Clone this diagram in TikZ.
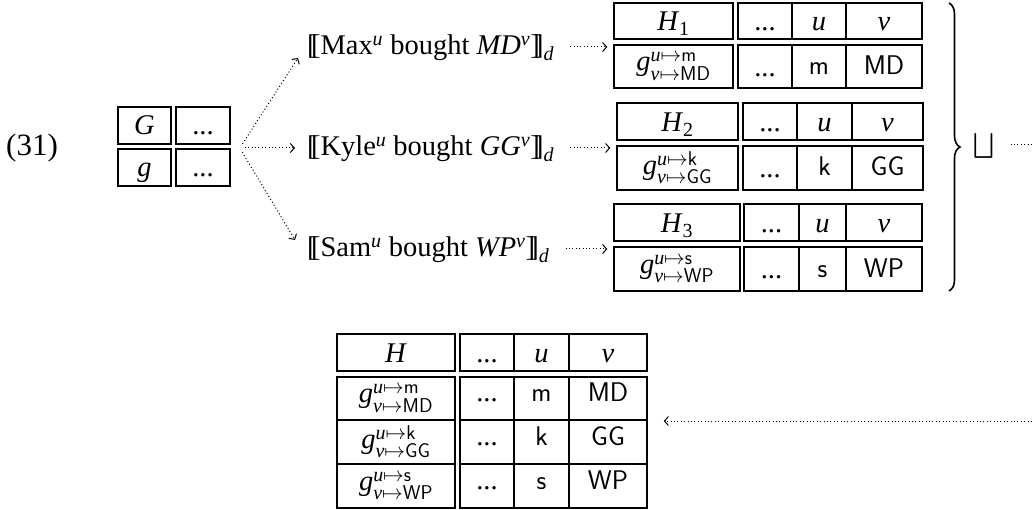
\documentclass[tikz,border=0pt]{standalone}
\usepackage{amsmath}
\usepackage{fontspec}
\setmainfont{Liberation Serif}
\usetikzlibrary{arrows.meta,decorations.pathreplacing,fit}
\newcommand\mi[1]{\textit{#1}}
\newcommand\lbb{[\kern-0.2em[}
\newcommand\rbb{]\kern-0.2em]}
\newcommand\fsz{\fontsize{28.5}{34}\selectfont}
\newcommand\sv[1]{{\fontsize{27}{32}\selectfont\textsf{#1}}}
\newcommand\tc[7][]{\node[cellbox, #1, minimum width={#5-#3}, minimum height={#6-#4}] (#2) at ({(#3+#5)/2},{(#4+#6)/2}) {#7};}
\tikzset{
  cellbox/.style={draw, line width=1.1pt, inner sep=0pt, font=\fsz},
  hdr/.style={text height=22pt, text depth=2pt},
  gcell/.style={text height=20pt, text depth=2pt},
  gmap/.style={},
  tbody/.style={text height=16pt, text depth=0pt},
  bbody/.style={text height=8pt, text depth=2pt},
  txt/.style={inner sep=0pt, anchor=base west, font=\fsz},
  dotline/.style={line width=1pt, dash pattern=on 1pt off 2.4pt},
  arr/.style={dotline, -{Straight Barb[length=4pt,width=9pt]}},
  bracestyle/.style={line width=1.6pt, decorate, decoration={brace, amplitude=11pt}},
  tbl/.style={inner sep=0pt}
}
\begin{document}
\begin{tikzpicture}[x=1pt,y=-1pt]
\useasboundingbox (0,0) rectangle (1032,510);
% example number
\node[font=\fontsize{31}{36}\selectfont, inner sep=0pt, anchor=base west] (num) at (6,156) {(31)};
% G table
\tc[gcell]{ga}{118}{107}{171}{144}{\mi{G}}
\tc[gcell]{gb}{176}{107}{230}{144}{...}
\tc[gcell]{gc}{118}{149}{171}{186}{\mi{g}}
\tc[gcell]{gd}{176}{149}{230}{186}{...}
\node[tbl, fit=(ga)(gd)] (G) {};
\coordinate (fork) at ([xshift=9pt,yshift=-1.5pt]G.east);
% texts
\node[txt] (t1) at (307,55) {\lbb Max$^{\mi{u}}$ bought \mi{MD}$^{\mi{v}}$\rbb$_{\mi{d}}$};
\node[txt] (t2) at (307,156) {\lbb Kyle$^{\mi{u}}$ bought \mi{GG}$^{\mi{v}}$\rbb$_{\mi{d}}$};
\node[txt] (t3) at (307,257) {\lbb Sam$^{\mi{u}}$ bought \mi{WP}$^{\mi{v}}$\rbb$_{\mi{d}}$};
% H1
\tc[hdr]{h1a}{614}{3}{733}{39}{\mi{H}$_{\text{1}}$}
\tc[hdr]{h1b}{738}{3}{792}{39}{...}
\tc[hdr]{h1c}{792}{3}{846}{39}{\mi{u}}
\tc[hdr]{h1d}{846}{3}{922}{39}{\mi{v}}
\tc[gmap]{h1e}{614}{45}{733}{88}{\mi{g}$^{\mi{u}\mapsto\textsf{m}}_{\mi{v}\mapsto\textsf{MD}}$}
\tc[hdr]{h1f}{738}{45}{792}{88}{...}
\tc[tbody]{h1g}{792}{45}{846}{88}{\sv{m}}
\tc[tbody]{h1h}{846}{45}{922}{88}{\sv{MD}}
\node[tbl, fit=(h1a)(h1h)] (H1) {};
% H2
\tc[hdr]{h2a}{617}{103}{738}{140}{\mi{H}$_{\text{2}}$}
\tc[hdr]{h2b}{743}{103}{797}{140}{...}
\tc[hdr]{h2c}{797}{103}{852}{140}{\mi{u}}
\tc[hdr]{h2d}{852}{103}{923}{140}{\mi{v}}
\tc[gmap]{h2e}{617}{146}{738}{190}{\mi{g}$^{\mi{u}\mapsto\textsf{k}}_{\mi{v}\mapsto\textsf{GG}}$}
\tc[hdr]{h2f}{743}{146}{797}{190}{...}
\tc[tbody]{h2g}{797}{146}{852}{190}{\sv{k}}
\tc[tbody]{h2h}{852}{146}{923}{190}{\sv{GG}}
\node[tbl, fit=(h2a)(h2h)] (H2) {};
% H3
\tc[hdr]{h3a}{614}{204}{740}{241}{\mi{H}$_{\text{3}}$}
\tc[hdr]{h3b}{744}{204}{799}{241}{...}
\tc[hdr]{h3c}{799}{204}{846}{241}{\mi{u}}
\tc[hdr]{h3d}{846}{204}{922}{241}{\mi{v}}
\tc[gmap]{h3e}{614}{247}{740}{291}{\mi{g}$^{\mi{u}\mapsto\textsf{s}}_{\mi{v}\mapsto\textsf{WP}}$}
\tc[hdr]{h3f}{744}{247}{799}{291}{...}
\tc[tbody]{h3g}{799}{247}{846}{291}{\sv{s}}
\tc[tbody]{h3h}{846}{247}{922}{291}{\sv{WP}}
\node[tbl, fit=(h3a)(h3h)] (H3) {};
% bottom H table
\tc[hdr]{ha}{337}{334}{455}{371}{\mi{H}}
\tc[hdr]{hb}{460}{334}{514}{371}{...}
\tc[hdr]{hc}{514}{334}{569}{371}{\mi{u}}
\tc[hdr]{hd}{569}{334}{647}{371}{\mi{v}}
\tc[gmap]{he}{337}{377}{455}{420}{\mi{g}$^{\mi{u}\mapsto\textsf{m}}_{\mi{v}\mapsto\textsf{MD}}$}
\tc[bbody]{hf}{460}{377}{514}{420}{...}
\tc[bbody]{hg}{514}{377}{569}{420}{\sv{m}}
\tc[bbody]{hh}{569}{377}{647}{420}{\sv{MD}}
\tc[gmap]{hi}{337}{420}{455}{464}{\mi{g}$^{\mi{u}\mapsto\textsf{k}}_{\mi{v}\mapsto\textsf{GG}}$}
\tc[bbody]{hj}{460}{420}{514}{464}{...}
\tc[bbody]{hk}{514}{420}{569}{464}{\sv{k}}
\tc[bbody]{hl}{569}{420}{647}{464}{\sv{GG}}
\tc[gmap]{hm}{337}{464}{455}{508}{\mi{g}$^{\mi{u}\mapsto\textsf{s}}_{\mi{v}\mapsto\textsf{WP}}$}
\tc[bbody]{hn}{460}{464}{514}{508}{...}
\tc[bbody]{ho}{514}{464}{569}{508}{\sv{s}}
\tc[bbody]{hp}{569}{464}{647}{508}{\sv{WP}}
\node[tbl, fit=(ha)(hp)] (H) {};
% brace and join
\coordinate (br1) at (949,3);
\coordinate (br2) at (949,291);
\draw[bracestyle] (br1) -- (br2);
\node[inner sep=0pt, font=\fsz] (sq) at (984,146) {$\bigsqcup$};
\coordinate (sqout) at (1032,145);
\coordinate (ret) at (1032,421);
% arrows
\draw[arr, shorten <=5pt] (fork) -- ([xshift=-9pt,yshift=-3pt]t1.base west);
\draw[arr, shorten <=5pt, shorten >=12pt] (fork) -- (fork -| t2.west);
\draw[arr, shorten <=5pt] (fork) -- ([xshift=-12pt,yshift=17pt]t3.base west);
\coordinate (a1) at ([yshift=8pt]t1.base east);
\coordinate (a2) at ([yshift=8pt]t2.base east);
\coordinate (a3) at ([yshift=8pt]t3.base east);
\draw[arr, shorten <=16pt, shorten >=6pt] (a1) -- (a1 -| H1.west);
\draw[arr, shorten <=16pt, shorten >=6pt] (a2) -- (a2 -| H2.west);
\draw[arr, shorten <=16pt, shorten >=6pt] (a3) -- (a3 -| H3.west);
\draw[dotline, shorten <=16pt] (sq.east |- sqout) -- (sqout);
\draw[arr, shorten >=16pt] (ret) -- (ret -| H.east);
\end{tikzpicture}
\end{document}
